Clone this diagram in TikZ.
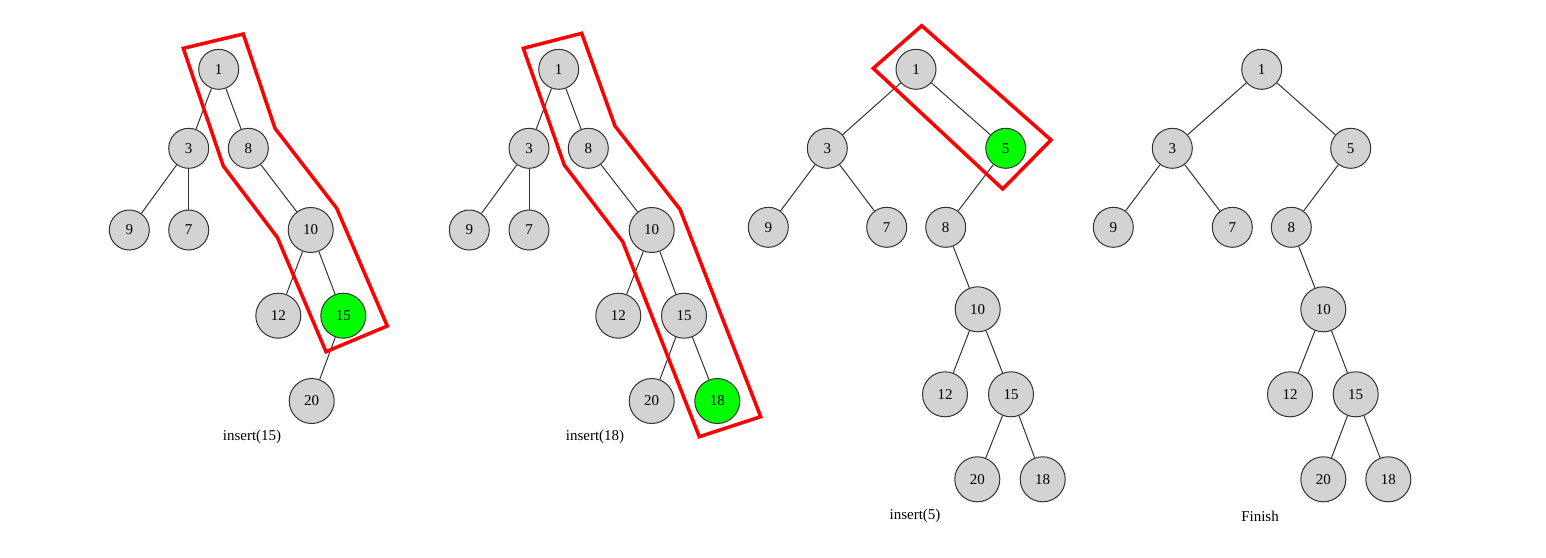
\documentclass[tikz,border=0pt]{standalone}
\usepackage{fontspec}
\setmainfont{Liberation Serif}
\tikzset{
  key/.style={circle, draw=black!80, line width=1pt, fill={rgb,255:red,211;green,211;blue,211}, inner sep=0pt, minimum size=40pt, font=\fontsize{15}{18}\selectfont},
  keywide/.style={key, minimum size=45pt},
  newkey/.style={fill={rgb,255:red,0;green,255;blue,0}},
  link/.style={draw=black!80, line width=1pt},
  path/.style={draw=red, line width=3.5pt, line join=miter},
  caption/.style={font=\fontsize{15}{18}\selectfont}
}
\begin{document}
\begin{tikzpicture}[x=1pt, y=-1pt]
		\useasboundingbox (0,0) rectangle (1546,557);
		% insert(15)
		\node[key] (a1) at (218.7,69.3) {1};
		\node[key] (a3) at (188.7,148.3) {3};
		\node[key] (a8) at (248.3,148.3) {8};
		\node[key] (a9) at (129.3,230) {9};
		\node[key] (a7) at (188.7,230) {7};
		\node[keywide] (a10) at (310.7,230) {10};
		\node[keywide] (a12) at (278.3,315.7) {12};
		\node[keywide, newkey] (a15) at (343.3,315.7) {15};
		\node[keywide] (a20) at (311.7,401) {20};
		\node[caption] (acap) at (252,437) {insert(15)};
		\draw[link] (a1) -- (a3);  \draw[link] (a1) -- (a8);
		\draw[link] (a3) -- (a9);  \draw[link] (a3) -- (a7);
		\draw[link] (a8) -- (a10);
		\draw[link] (a10) -- (a12);  \draw[link] (a10) -- (a15);
		\draw[link] (a15) -- (a20);
		\draw[path] (183.3,48.3) -- (243.3,34) -- (275,128.3) -- (336.7,208.3) -- (387.3,326) -- (326,351.7) -- (277.3,237.3) -- (223.3,166) -- cycle;  % search path
		% insert(18)
		\node[key] (b1) at (558.7,69.3) {1};
		\node[key] (b3) at (529,148.3) {3};
		\node[key] (b8) at (588.3,148.3) {8};
		\node[key] (b9) at (469.3,230) {9};
		\node[key] (b7) at (529,230) {7};
		\node[keywide] (b10) at (651.7,230) {10};
		\node[keywide] (b12) at (618.3,315.7) {12};
		\node[keywide] (b15) at (684,315.7) {15};
		\node[keywide] (b20) at (651.7,401) {20};
		\node[keywide, newkey] (b18) at (717.3,401) {18};
		\node[caption] (bcap) at (595,437) {insert(18)};
		\draw[link] (b1) -- (b3);  \draw[link] (b1) -- (b8);
		\draw[link] (b3) -- (b9);  \draw[link] (b3) -- (b7);
		\draw[link] (b8) -- (b10);
		\draw[link] (b10) -- (b12);  \draw[link] (b10) -- (b15);
		\draw[link] (b15) -- (b20);  \draw[link] (b15) -- (b18);
		\draw[path] (523.3,48.3) -- (581.7,33.3) -- (615,126) -- (680,209.3) -- (760.7,416.7) -- (699.3,436.7) -- (622.7,241.7) -- (564.3,165) -- cycle;  % search path
		% insert(5)
		\node[key] (c1) at (916,69.3) {1};
		\node[key] (c3) at (827.3,148.3) {3};
		\node[key, newkey] (c5) at (1005.7,148.3) {5};
		\node[key] (c9) at (768.3,227.3) {9};
		\node[key] (c7) at (886.7,227.3) {7};
		\node[key] (c8) at (945.7,227.3) {8};
		\node[keywide] (c10) at (977.7,309.3) {10};
		\node[keywide] (c12) at (945,394.3) {12};
		\node[keywide] (c15) at (1011,394.3) {15};
		\node[keywide] (c20) at (977.3,479.3) {20};
		\node[keywide] (c18) at (1042.7,479.3) {18};
		\node[caption] (ccap) at (915,516) {insert(5)};
		\draw[link] (c1) -- (c3);  \draw[link] (c1) -- (c5);
		\draw[link] (c3) -- (c9);  \draw[link] (c3) -- (c7);
		\draw[link] (c5) -- (c8);
		\draw[link] (c8) -- (c10);
		\draw[link] (c10) -- (c12);  \draw[link] (c10) -- (c15);
		\draw[link] (c15) -- (c20);  \draw[link] (c15) -- (c18);
		\draw[path] (873.3,68.3) -- (921.7,25.7) -- (1051,140) -- (1002.7,189) -- cycle;  % search path
		% Finish
		\node[key] (d1) at (1261.7,69.3) {1};
		\node[key] (d3) at (1172.3,148.3) {3};
		\node[key] (d5) at (1350.7,148.3) {5};
		\node[key] (d9) at (1113.3,227.3) {9};
		\node[key] (d7) at (1232.3,227.3) {7};
		\node[key] (d8) at (1291.3,227.3) {8};
		\node[keywide] (d10) at (1323.3,309.3) {10};
		\node[keywide] (d12) at (1290,394.3) {12};
		\node[keywide] (d15) at (1355.7,394.3) {15};
		\node[keywide] (d20) at (1323.3,479.3) {20};
		\node[keywide] (d18) at (1388.3,479.3) {18};
		\node[caption] (dcap) at (1260,516) {Finish};
		\draw[link] (d1) -- (d3);  \draw[link] (d1) -- (d5);
		\draw[link] (d3) -- (d9);  \draw[link] (d3) -- (d7);
		\draw[link] (d5) -- (d8);
		\draw[link] (d8) -- (d10);
		\draw[link] (d10) -- (d12);  \draw[link] (d10) -- (d15);
		\draw[link] (d15) -- (d20);  \draw[link] (d15) -- (d18);
	\end{tikzpicture}
\end{document}
